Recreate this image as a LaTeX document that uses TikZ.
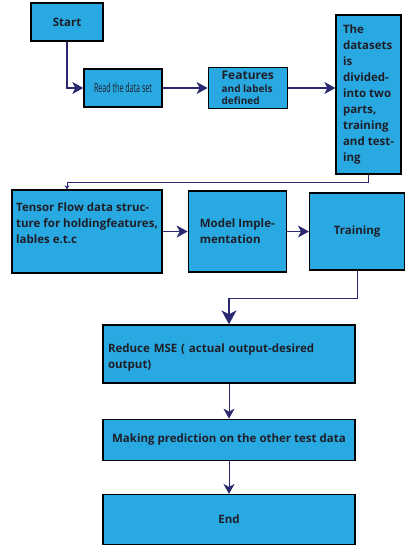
\documentclass[tikz,border=0pt]{standalone}
\usepackage{fontspec}
\setmainfont{Open Sans}
\newfontfamily\narrowfont[FakeStretch=0.57]{Open Sans}
\usetikzlibrary{arrows.meta,positioning}
\definecolor{boxblue}{RGB}{41,169,225}
\definecolor{arrowblue}{RGB}{42,40,112}
\definecolor{textdark}{RGB}{30,30,40}

\begin{document}
\begin{tikzpicture}[
        x=1pt, y=1pt,
        box/.style={rectangle, draw=black, line width=1.3pt, fill=boxblue, inner sep=4pt, align=left, text=textdark, font=\fontsize{11.5}{16}\selectfont\bfseries},
        arrow/.style={-{Stealth[length=11pt, width=12pt, inset=3pt]}, line width=1.2pt, arrowblue},
        big arrow/.style={arrow, -{Stealth[length=14pt, width=15pt, inset=4pt]}},
        thin arrow/.style={-{Stealth[length=10pt, width=11pt, inset=3pt]}, line width=1pt, arrowblue},
        small arrow/.style={-{Stealth[length=4pt, width=5pt]}, line width=1pt, arrowblue}
    ]
    \useasboundingbox (0,0) rectangle (412,-550);

    \node[box, minimum width=72pt, minimum height=38pt, align=center] (start) at (67,-22) {Start};
    \node[box, minimum width=78pt, minimum height=38pt, align=center, font=\narrowfont\fontsize{12.5}{13}\selectfont] (read) at (123,-88) {Read the data set};
    \node[box, minimum width=79pt, minimum height=38pt, font=\fontsize{10}{12.5}\selectfont\bfseries, right=45pt of read] (feat) {{\fontsize{12}{13}\selectfont Features}\\and labels\\defined};
    \node[box, minimum width=65pt, minimum height=159pt] (split) at (368.5,-94.5) {The\\datasets\\is\\divided-\\into two\\parts,\\training\\and test-\\ing};

    \node[box, minimum width=150pt, minimum height=83pt] (tensor) at (87,-231.5) {Tensor Flow data struc-\\ture for holdingfeatures,\\lables e.t.c\\\mbox{}};
    \node[box, minimum width=98pt, minimum height=81pt, right=25pt of tensor] (model) {Model Imple-\\mentation};
    \node[box, minimum width=95pt, minimum height=77pt, right=22pt of model] (train) {Training};

    \node[box, minimum width=252pt, minimum height=58pt, text width=242pt] (reduce) at (229,-354) {\mbox{}\\Reduce MSE ( actual output-desired\\output)};
    \node[box, minimum width=252pt, minimum height=41pt, below=35pt of reduce] (predict) {Making prediction on the other test data};
    \node[box, minimum width=252pt, minimum height=50pt, align=center, below=33pt of predict] (end) {End};

    \draw[arrow] (start.south) |- (read.west);
    \draw[arrow] (read) -- (feat);
    \draw[arrow] (feat.east) -- (feat.east -| split.west);
    \draw[small arrow] (split.south) -- ++(0,-8) -| ([xshift=-20pt]tensor.north);
    \draw[arrow] (tensor.east) -- (tensor.east -| model.west);
    \draw[arrow] (model) -- (train);
    \draw[big arrow] (train.south) -- ++(0,-28) -| (reduce.north);
    \draw[thin arrow] (reduce) -- (predict);
    \draw[thin arrow] (predict) -- (end);
\end{tikzpicture}
\end{document}
